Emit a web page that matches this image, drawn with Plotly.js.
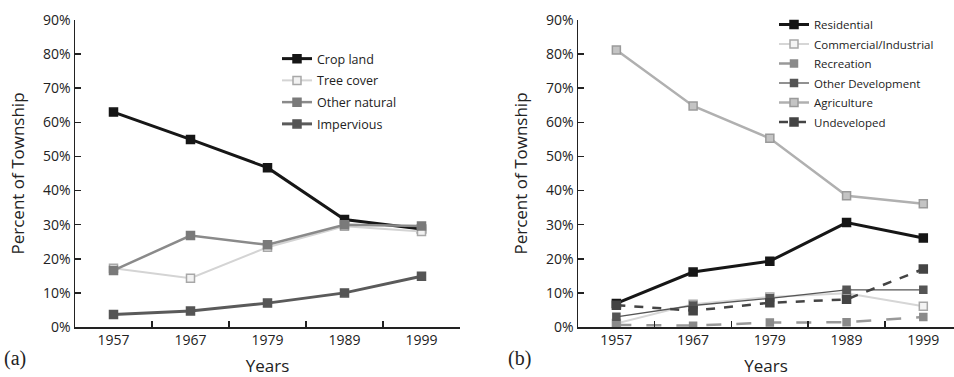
<!DOCTYPE html>
<html><head><meta charset="utf-8">
<script src="https://cdn.plot.ly/plotly-3.0.1.min.js"></script>
<style>html,body{margin:0;padding:0;background:#fff}#chart{width:954px;height:377px}</style>
</head><body><div id="chart"></div>
<script>
const years = ['1957','1967','1979','1989','1999'];
// Panel (a)
const cropLand = [63, 55, 46.7, 31.5, 28.7];
const treeCover = [17.2, 14.3, 23.4, 29.5, 28];
const otherNatural = [16.6, 26.8, 24.1, 30, 29.6];
const impervious = [3.7, 4.7, 7.0, 10, 14.9];
// Panel (b)
const residential = [6.9, 16.1, 19.3, 30.6, 26.1];
const commercial = [1.0, 6.7, 8.8, 9.9, 6.1];
const recreation = [0.6, 0.4, 1.3, 1.4, 2.9];
const otherDev = [3.0, 6.3, 8.4, 10.9, 10.9];
const agriculture = [81.2, 64.8, 55.3, 38.5, 36.1];
const undeveloped = [6.4, 4.8, 7.1, 8.1, 17.0];

const FONT = 'Open Sans, Noto Sans, sans-serif';
function tr(name, y, xa, ya, color, width, mcolor, mfill, dash, legend, msize) {
  return {x: years, y: y, name: name, type: 'scatter', mode: 'lines+markers',
    xaxis: xa, yaxis: ya, legend: legend, legendgroup: name,
    line: {color: color, width: width, dash: dash || 'solid'},
    marker: {symbol: 'square', size: msize || 8, color: mfill || mcolor, line: {color: mcolor, width: 1.5}}};
}
const data = [
  tr('Crop land', cropLand, 'x', 'y', '#161616', 3, '#161616', null, null, 'legend'),
  tr('Tree cover', treeCover, 'x', 'y', '#d4d4d4', 2, '#a8a8a8', '#f2f2f2', null, 'legend'),
  tr('Other natural', otherNatural, 'x', 'y', '#8a8a8a', 2.5, '#7a7a7a', null, null, 'legend'),
  tr('Impervious', impervious, 'x', 'y', '#5a5a5a', 3, '#555555', null, null, 'legend'),
  tr('Residential', residential, 'x2', 'y2', '#161616', 3, '#161616', null, null, 'legend2'),
  tr('Commercial/Industrial', commercial, 'x2', 'y2', '#d6d6d6', 2, '#a8a8a8', '#f4f4f4', null, 'legend2'),
  tr('Recreation', recreation, 'x2', 'y2', '#999999', 2.5, '#8a8a8a', null, 'longdash', 'legend2', 7),
  tr('Other Development', otherDev, 'x2', 'y2', '#555555', 1.3, '#555555', null, null, 'legend2', 7),
  tr('Agriculture', agriculture, 'x2', 'y2', '#b0b0b0', 2.5, '#9a9a9a', '#c4c4c4', null, 'legend2'),
  tr('Undeveloped', undeveloped, 'x2', 'y2', '#444444', 2.5, '#444444', null, 'dash', 'legend2')
];
const W = 954, H = 377;
function xax(d0, d1, r1, anchor) {
  return {type: 'category', domain: [d0 / W, d1 / W], range: [-0.5, r1], anchor: anchor,
    showline: true, linecolor: '#222', linewidth: 1.5, showgrid: false, zeroline: false,
    ticks: 'inside', tickson: 'boundaries', ticklen: 6, tickcolor: '#222', tickwidth: 1.5,
    tickfont: {family: FONT, size: 14, color: '#222'}, automargin: false,
    title: {text: 'Years', font: {family: FONT, size: 17, color: '#222'}, standoff: 13}};
}
function yax(anchor) {
  return {domain: [50 / H, 357 / H], range: [0, 90], dtick: 10, ticksuffix: '%', anchor: anchor,
    showline: true, linecolor: '#222', linewidth: 1.5, showgrid: false, zeroline: false,
    ticks: 'inside', ticklen: 6, tickcolor: '#222', tickwidth: 1.5,
    tickfont: {family: FONT, size: 14, color: '#222'}, automargin: false,
    title: {text: 'Percent of Township', font: {family: FONT, size: 17, color: '#222'}, standoff: 14}};
}
const legendBase = {bgcolor: 'rgba(0,0,0,0)', xanchor: 'left', yanchor: 'top',
  font: {family: FONT, size: 12.5, color: '#222'}, itemwidth: 30, traceorder: 'grouped'};
const layout = {
  width: W, height: H, margin: {l: 0, r: 0, t: 0, b: 0},
  paper_bgcolor: '#fff', plot_bgcolor: '#fff', showlegend: true,
  xaxis: xax(75, 460, 4.5, 'y'), yaxis: yax('x'),
  xaxis2: xax(578, 954, 4.4, 'y2'), yaxis2: yax('x2'),
  legend: Object.assign({}, legendBase, {x: 277 / W, y: 1 - 44 / H, tracegroupgap: 2.5}),
  legend2: Object.assign({}, legendBase, {x: 774 / W, y: 1 - 10 / H, tracegroupgap: 0.5, font: {family: FONT, size: 11.5, color: '#222'}}),
  annotations: [
    {text: '(a)', xref: 'paper', yref: 'paper', x: 2 / W, y: 1 - 358 / H, xanchor: 'left', yanchor: 'middle', showarrow: false,
     font: {family: 'Liberation Serif, serif', size: 20, color: '#222'}},
    {text: '(b)', xref: 'paper', yref: 'paper', x: 506 / W, y: 1 - 358 / H, xanchor: 'left', yanchor: 'middle', showarrow: false,
     font: {family: 'Liberation Serif, serif', size: 20, color: '#222'}}
  ]
};
Plotly.newPlot('chart', data, layout, {displayModeBar: false, staticPlot: true});
</script></body></html>
